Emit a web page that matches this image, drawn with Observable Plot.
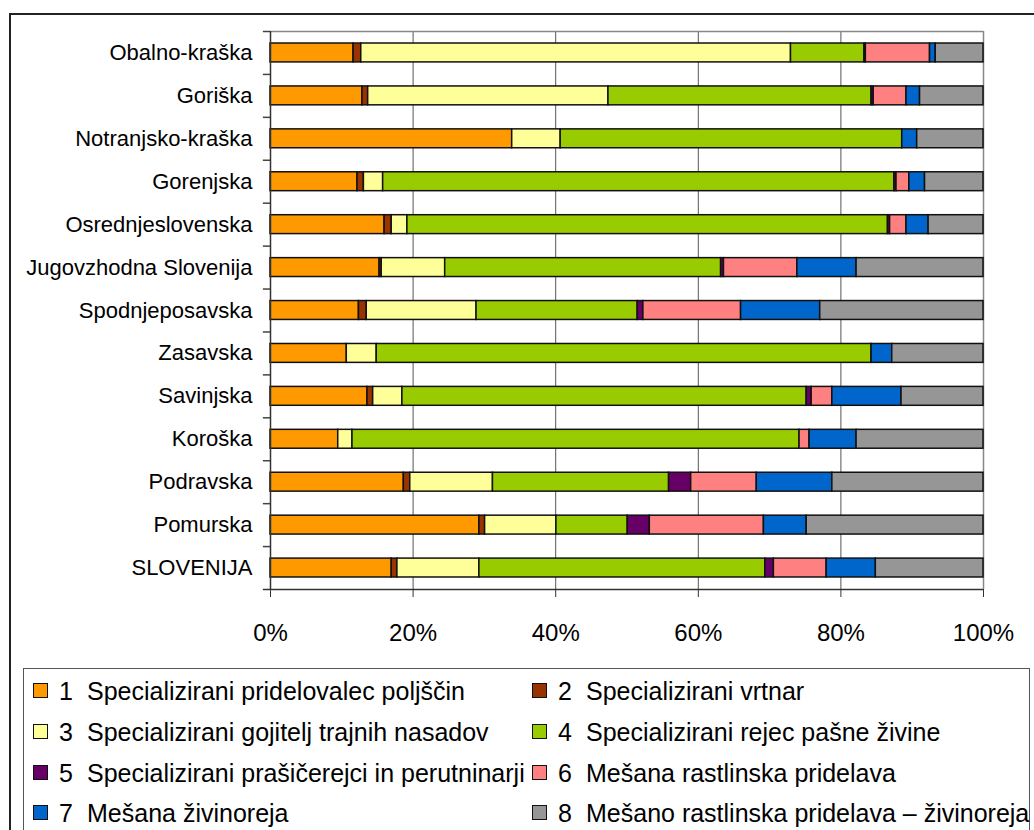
<!DOCTYPE html>
<html>
<head>
<meta charset="utf-8">
<script src="https://cdn.jsdelivr.net/npm/d3@7"></script>
<script src="https://cdn.jsdelivr.net/npm/@observablehq/plot@0.6"></script>
<style>
  html, body { margin: 0; padding: 0; background: #fff; overflow: hidden; }
  body { width: 1034px; height: 830px; position: relative; font-family: "Liberation Sans", Arial, sans-serif; }
  #frame { position: absolute; left: 9px; top: 13px; width: 1200px; height: 1000px; border-left: 2px solid #222; border-top: 2px solid #222; }
  #chart { position: absolute; left: 0; top: 0; }
  #legend { position: absolute; left: 23px; top: 668px; width: 1005px; height: 300px; border: 1.5px solid #555; background: #fff; }
  .item { position: absolute; height: 30px; font-size: 25px; color: #000; white-space: nowrap; }
  .sw { position: absolute; left: 0; top: 7px; width: 13px; height: 13px; border: 1.5px solid #111; }
  .num { position: absolute; left: 26px; top: 0; line-height: 30px; }
  .lab { position: absolute; left: 54px; top: 0; line-height: 30px; }
</style>
</head>
<body>
<div id="frame"></div>
<div id="chart"></div>
<div id="legend"></div>
<script>
const regions = ["Obalno-kraška", "Goriška", "Notranjsko-kraška", "Gorenjska", "Osrednjeslovenska",
  "Jugovzhodna Slovenija", "Spodnjeposavska", "Zasavska", "Savinjska", "Koroška", "Podravska", "Pomurska", "SLOVENIJA"];

const types = [
  "Specializirani pridelovalec poljščin",
  "Specializirani vrtnar",
  "Specializirani gojitelj trajnih nasadov",
  "Specializirani rejec pašne živine",
  "Specializirani prašičerejci in perutninarji",
  "Mešana rastlinska pridelava",
  "Mešana živinoreja",
  "Mešano rastlinska pridelava – živinoreja"
];

const colors = ["#FF9900", "#993300", "#FFFF99", "#99CC00", "#660066", "#FF8080", "#0066CC", "#969696"];

// values (%) per type, in the order of regions
const t1 = [11.65, 12.9, 33.9, 12.2, 16.0, 15.3, 12.4, 10.7, 13.6, 9.5, 18.7, 29.3, 17.0];
const t2 = [1.08, 0.8, 0, 0.9, 1.0, 0.3, 1.1, 0, 0.8, 0, 0.9, 0.8, 0.8];
const t3 = [60.27, 33.7, 6.8, 2.7, 2.2, 8.9, 15.4, 4.2, 4.1, 2.0, 11.6, 10.0, 11.5];
const t4 = [10.3, 36.9, 47.9, 71.7, 67.4, 38.7, 22.6, 69.4, 56.7, 62.7, 24.7, 10.0, 40.1];
const t5 = [0.2, 0.3, 0, 0.3, 0.3, 0.4, 0.8, 0, 0.7, 0, 3.1, 3.1, 1.2];
const t6 = [9.0, 4.6, 0, 1.8, 2.3, 10.3, 13.7, 0, 2.9, 1.4, 9.2, 16.0, 7.4];
const t7 = [0.8, 1.9, 2.1, 2.2, 3.1, 8.3, 11.1, 2.9, 9.7, 6.6, 10.6, 6.0, 6.9];
const t8 = [6.7, 8.9, 9.3, 8.2, 7.7, 17.8, 22.9, 12.8, 11.5, 17.8, 21.2, 24.8, 15.1];

const xTicks = [0, 20, 40, 60, 80, 100];
const gridTicks = [20, 40, 60, 80];

const series = [t1, t2, t3, t4, t5, t6, t7, t8];
const data = [];
regions.forEach((r, i) => {
  series.forEach((s, k) => data.push({region: r, type: types[k], value: s[i]}));
});

const W = 1034, H = 650, mt = 31, mb = 61, ml = 270, mr = 51;
const step = (H - mt - mb) / regions.length;
const last = regions[regions.length - 1];
const font = "'Liberation Sans', Arial, sans-serif";

const chart = Plot.plot({
  width: W, height: H,
  marginTop: mt, marginBottom: mb, marginLeft: ml, marginRight: mr,
  style: {fontFamily: font, background: "transparent", color: "#000"},
  x: {domain: [0, 100]},
  y: {domain: regions, paddingInner: 0.56, paddingOuter: 0.28, round: false},
  color: {domain: types, range: colors},
  marks: [
    Plot.ruleX(gridTicks, {stroke: "#555", strokeWidth: 1}),
    Plot.ruleX([100], {stroke: "#888", strokeWidth: 1.5}),
    Plot.ruleY([regions[0]], {dy: -step / 2, x1: 0, x2: 100, stroke: "#888", strokeWidth: 1.5}),
    Plot.barX(data, {x: "value", y: "region", fill: "type", stroke: "#111", strokeWidth: 1.5}),
    Plot.ruleY(regions, {dy: -step / 2, x1: -1, x2: 0, stroke: "#444", strokeWidth: 1.5}),
    Plot.ruleY([last], {dy: step / 2, x1: -1, x2: 100, stroke: "#333", strokeWidth: 1.5}),
    Plot.ruleX([0], {stroke: "#333", strokeWidth: 1.5}),
    Plot.axisX({ticks: xTicks, tickFormat: d => d + "%", tickSize: 8, tickPadding: 26, fontSize: 24, label: null, stroke: "#333"}),
    Plot.axisY({tickSize: 0, tickPadding: 18, fontSize: 22, label: null})
  ]
});
document.getElementById("chart").appendChild(chart);

const legend = document.getElementById("legend");
const rowsY = [690, 731, 772, 812];
const colsX = [32, 531];
types.forEach((t, k) => {
  const row = Math.floor(k / 2), col = k % 2;
  const it = document.createElement("div");
  it.className = "item";
  it.style.left = (colsX[col] - 23) + "px";
  it.style.top = (rowsY[row] - 668 - 15) + "px";
  it.innerHTML = `<div class="sw" style="background:${colors[k]}"></div><span class="num">${k + 1}</span><span class="lab"></span>`;
  it.querySelector(".lab").textContent = t;
  legend.appendChild(it);
});
</script>
</body>
</html>
